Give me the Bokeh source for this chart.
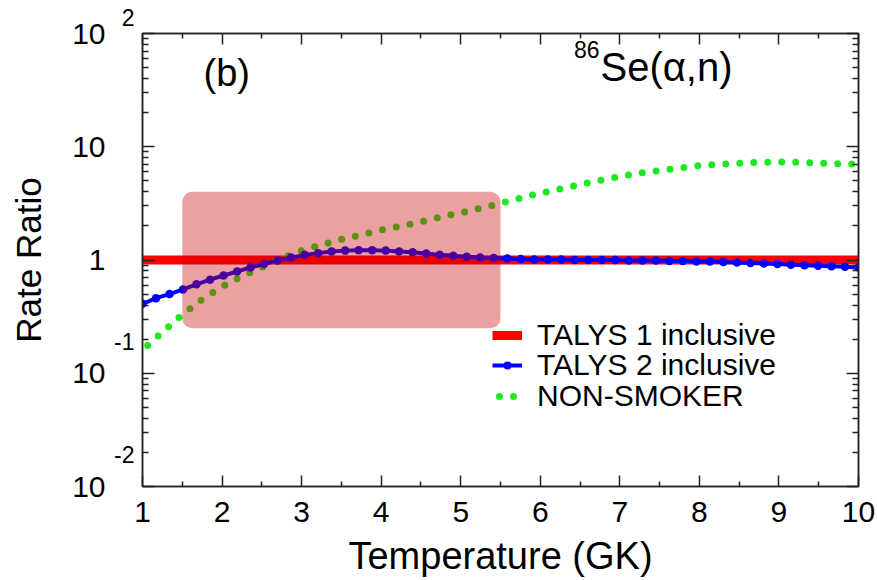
import math
from bokeh.plotting import figure
from bokeh.models import (Label, BoxAnnotation, Legend, LegendItem, LinearAxis, LogAxis,
                          FixedTicker)
from bokeh.embed import file_html
from bokeh.resources import INLINE

FONT = "Liberation Sans"

# ---------------- data ----------------
temp_talys1 = [1.0, 10.0]
ratio_talys1 = [1.0, 1.0]

temp_talys2 = [1.000, 1.170, 1.340, 1.509, 1.679, 1.849, 2.019, 2.189, 2.358, 2.528,
               2.698, 2.868, 3.038, 3.208, 3.377, 3.547, 3.717, 3.887, 4.057, 4.226,
               4.396, 4.566, 4.736, 4.906, 5.075, 5.245, 5.415, 5.585, 5.755, 5.925,
               6.094, 6.264, 6.434, 6.604, 6.774, 6.943, 7.113, 7.283, 7.453, 7.623,
               7.792, 7.962, 8.132, 8.302, 8.472, 8.642, 8.811, 8.981, 9.151, 9.321,
               9.491, 9.660, 9.830, 10.000]
ratio_talys2 = [0.41, 0.46, 0.50, 0.55, 0.61, 0.67, 0.73, 0.79, 0.86, 0.92,
                0.99, 1.05, 1.11, 1.15, 1.19, 1.21, 1.22, 1.22, 1.21, 1.19,
                1.17, 1.14, 1.11, 1.09, 1.07, 1.05, 1.04, 1.03, 1.02, 1.01,
                1.01, 1.01, 1.00, 1.00, 1.00, 1.00, 0.99, 0.99, 0.99, 0.98,
                0.98, 0.97, 0.97, 0.96, 0.95, 0.94, 0.93, 0.92, 0.91, 0.90,
                0.89, 0.88, 0.87, 0.86]

temp_nonsmoker = [1.00, 1.25, 1.50, 1.75, 2.00, 2.25, 2.50, 2.75, 3.00, 3.25,
                  3.50, 3.75, 4.00, 4.25, 4.50, 4.75, 5.00, 5.25, 5.50, 5.75,
                  6.00, 6.25, 6.50, 6.75, 7.00, 7.25, 7.50, 7.75, 8.00, 8.25,
                  8.50, 8.75, 9.00, 9.25, 9.50, 9.75, 10.00]
ratio_nonsmoker = [0.16, 0.23, 0.33, 0.45, 0.58, 0.72, 0.86, 1.04, 1.21, 1.36,
                   1.52, 1.67, 1.84, 1.99, 2.17, 2.40, 2.61, 2.87, 3.17, 3.52,
                   3.89, 4.25, 4.64, 5.05, 5.47, 5.86, 6.16, 6.49, 6.81, 7.01,
                   7.14, 7.28, 7.36, 7.28, 7.17, 7.09, 7.04]

band_temp = [1.5, 5.5]
band_ratio = [0.25, 4.0]

x_ticks = [1, 2, 3, 4, 5, 6, 7, 8, 9, 10]
x_minor_ticks = [1.5, 2.5, 3.5, 4.5, 5.5, 6.5, 7.5, 8.5, 9.5]
y_ticks = [0.01, 0.1, 1, 10, 100]
y_tick_base = ["10", "10", "1", "10", "10"]
y_tick_exp = ["-2", "-1", "", "", "2"]
y_minor_ticks = [m * 10.0 ** k for k in range(-2, 2) for m in range(2, 10)]

series_labels = ["TALYS 1 inclusive", "TALYS 2 inclusive", "NON-SMOKER"]

# ---------------- figure ----------------
p = figure(width=877, height=580, x_range=(1, 10), y_range=(0.01, 100),
           y_axis_type="log", output_backend="svg", toolbar_location=None,
           min_border_left=142, min_border_right=19, min_border_top=33,
           min_border_bottom=94, background_fill_color="white",
           border_fill_color="white", outline_line_color="#222222",
           outline_line_width=1.5)
p.grid.visible = False

AX = "#222222"


def style_axis(ax, major_in, minor_in):
    ax.major_tick_in = major_in
    ax.major_tick_out = 0
    ax.minor_tick_in = minor_in
    ax.minor_tick_out = 0
    ax.axis_line_color = AX
    ax.axis_line_width = 1.5
    ax.major_tick_line_color = AX
    ax.major_tick_line_width = 1.5
    ax.minor_tick_line_color = AX
    ax.minor_tick_line_width = 1.5


xb = p.xaxis[0]
xb.ticker = FixedTicker(ticks=x_ticks, minor_ticks=x_minor_ticks)
style_axis(xb, 11, 5)
xb.major_label_text_font = FONT
xb.major_label_text_font_size = "30px"
xb.major_label_text_color = "black"
xb.major_label_standoff = 15
xb.axis_label = "Temperature (GK)"
xb.axis_label_text_font = FONT
xb.axis_label_text_font_size = "38px"
xb.axis_label_text_font_style = "normal"
xb.axis_label_text_color = "black"
xb.axis_label_standoff = 10

# inner left axis: ticks + raised exponents
yl = p.yaxis[0]
yl.ticker = FixedTicker(ticks=y_ticks, minor_ticks=y_minor_ticks)
style_axis(yl, 12, 6)
exp_raise = {"-2": "\n\n", "-1": "\n\n", "2": "\n", "": ""}
yl.major_label_overrides = {t: (e + exp_raise[e]) for t, e in zip(y_ticks, y_tick_exp)}
yl.major_label_text_font = FONT
yl.major_label_text_font_size = "23px"
yl.major_label_text_color = "black"
yl.major_label_standoff = 8

# outer left axis: mantissas + axis title
ym = LogAxis(ticker=FixedTicker(ticks=y_ticks, minor_ticks=[]))
ym.major_tick_in = 0
ym.major_tick_out = 0
ym.minor_tick_in = 0
ym.minor_tick_out = 0
ym.axis_line_color = None
ym.major_tick_line_color = None
ym.minor_tick_line_color = None
ym.major_label_overrides = {t: b for t, b in zip(y_ticks, y_tick_base)}
ym.major_label_text_font = FONT
ym.major_label_text_font_size = "30px"
ym.major_label_text_color = "black"
ym.major_label_standoff = 6
ym.axis_label = "Rate Ratio"
ym.axis_label_text_font = FONT
ym.axis_label_text_font_size = "35px"
ym.axis_label_text_font_style = "normal"
ym.axis_label_text_color = "black"
ym.axis_label_standoff = 21
p.add_layout(ym, "left")

xt = LinearAxis(ticker=FixedTicker(ticks=x_ticks, minor_ticks=x_minor_ticks))
style_axis(xt, 11, 5)
xt.major_label_text_font_size = "0px"
xt.major_label_overrides = {t: "" for t in x_ticks}
xt.major_label_standoff = 0
p.add_layout(xt, "above")

yr = LogAxis(ticker=FixedTicker(ticks=y_ticks, minor_ticks=y_minor_ticks))
style_axis(yr, 12, 6)
yr.major_label_text_font_size = "0px"
yr.major_label_overrides = {t: "" for t in y_ticks}
yr.major_label_standoff = 0
p.add_layout(yr, "right")


# ---------------- texts inside the frame ----------------
def lab(**kw):
    base = dict(text_font=FONT, text_color="black", text_baseline="middle")
    base.update(kw)
    p.add_layout(Label(**base))


lab(x=1, y=100, x_offset=61, y_offset=-39, text="(b)", text_font_size="38px",
    text_align="left")
lab(x=1, y=100, x_offset=458, y_offset=-33, text="Se(α,n)", text_font_size="40px",
    text_align="left")
lab(x=1, y=100, x_offset=457, y_offset=-16, text="86", text_font_size="23px",
    text_align="right")

# ---------------- series ----------------
r_red = p.line(temp_talys1, ratio_talys1, line_color="#ff0000", line_width=9)
r_green = p.line(temp_nonsmoker, ratio_nonsmoker, line_color="#1ee81e", line_width=7,
                 line_dash="0 14", line_cap="round", line_dash_offset=7)
r_blue = p.line(temp_talys2, ratio_talys2, line_color="#0000ff", line_width=4)
r_blue_dots = p.scatter(temp_talys2, ratio_talys2, size=8.5, fill_color="#0000ff",
                        line_color=None)

# one legend per row so the rows can sit as close as in the reference
legend_rows = [([r_red], 134), ([r_blue, r_blue_dots], 104), ([r_green], 73)]
for label, (rends, y_loc) in zip(series_labels, legend_rows):
    lg = Legend(items=[LegendItem(label=label, renderers=rends)],
                location=(350, y_loc), orientation="vertical", glyph_width=30,
                glyph_height=20, label_height=20, label_standoff=15, spacing=0,
                padding=0, margin=0, border_line_alpha=0, background_fill_alpha=0,
                label_text_font=FONT, label_text_font_size="30px",
                label_text_color="black")
    p.add_layout(lg)

band = BoxAnnotation(left=band_temp[0], right=band_temp[1], bottom=band_ratio[0],
                     top=band_ratio[1], fill_color="#c80000", fill_alpha=0.37,
                     line_alpha=0, border_radius=10)
p.add_layout(band)

open("out.html", "w").write(file_html(p, INLINE))
